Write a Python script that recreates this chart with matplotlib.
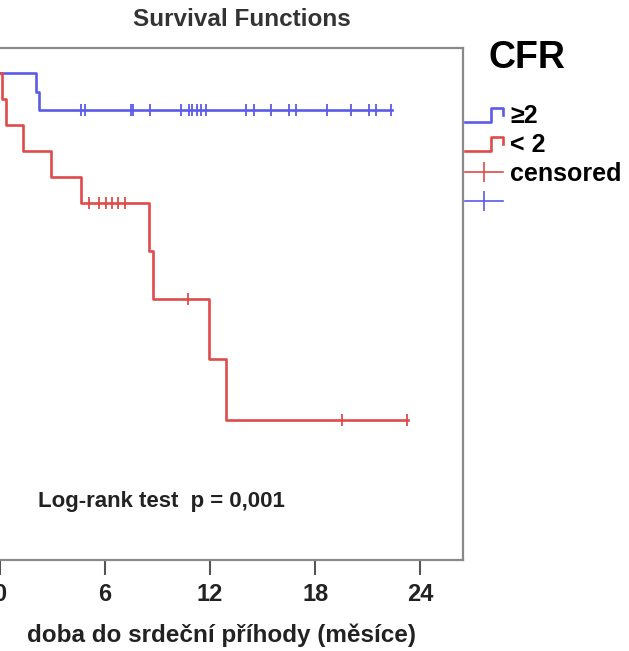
import matplotlib
matplotlib.use('Agg')
import matplotlib.pyplot as plt
from matplotlib.lines import Line2D
from matplotlib.legend_handler import HandlerBase

plt.rcParams['font.family'] = ['Liberation Sans', 'DejaVu Sans']

# (měsíce, podíl přežívajících)
blue_t = [0, 2.08, 2.2, 22.4]
blue_s = [1.0, 0.96, 0.92, 0.92]
blue_cens_t = [4.63, 4.86, 7.49, 7.6, 8.57, 10.34, 10.8, 10.97, 11.26, 11.49, 11.77,
               14.06, 14.51, 15.49, 16.51, 16.91, 18.69, 20.06, 21.09, 21.49, 22.34]
blue_cens_s = [0.92] * len(blue_cens_t)

red_t = [0, 0.14, 0.37, 1.29, 2.89, 4.6, 8.49, 8.71, 11.91, 12.89, 23.3]
red_s = [1.0, 0.944, 0.889, 0.833, 0.778, 0.722, 0.619, 0.516, 0.387, 0.258, 0.258]
red_cens_t = [5.1, 5.66, 6.06, 6.4, 6.74, 7.14, 10.71, 19.51, 23.23]
red_cens_s = [0.722] * 6 + [0.516] + [0.258] * 2

xticks = [0, 6, 12, 18, 24]
labels = ['\u22652', '< 2', 'censored', '']

blue = '#5b5be8'
red = '#e04a4a'


class StepHandler(HandlerBase):
    def create_artists(self, legend, orig, xd, yd, w, h, fontsize, trans):
        xs = [-xd, -xd + 0.68 * w, -xd + 0.68 * w, -xd + w, -xd + w]
        ys = [-yd + 0.05 * h, -yd + 0.05 * h, -yd + 0.85 * h, -yd + 0.85 * h, -yd + 0.45 * h]
        ln = Line2D(xs, ys, color=orig.get_color(), lw=orig.get_linewidth(), transform=trans)
        return [ln]


fig = plt.figure(figsize=(6.29, 6.51), dpi=100)
ax = fig.add_axes([-0.0131, 0.140, 0.749, 0.786])

ax.step(blue_t, blue_s, where='post', color=blue, lw=1.9)
ax.step(red_t, red_s, where='post', color=red, lw=1.9)
ax.plot(blue_cens_t, blue_cens_s, ls='none', marker='|', ms=9, mew=1.3, color=blue)
ax.plot(red_cens_t, red_cens_s, ls='none', marker='|', ms=9, mew=1.3, color=red)

ax.set_xlim(-0.47, 26.43)
ax.set_ylim(-0.042, 1.053)
ax.set_xticks(xticks)
ax.set_xticklabels([str(v) for v in xticks], fontsize=17, fontweight='bold', color='#222222')
ax.set_yticks([])
ax.tick_params(axis='x', length=11, width=1.5, color='#555555', pad=6)
for s in ['top', 'right', 'bottom']:
    ax.spines[s].set_color('#8a8a8a')
    ax.spines[s].set_linewidth(1.6)
ax.spines['left'].set_visible(False)

ax.set_xlabel('doba do srdeční příhody (měsíce)', fontsize=17.5, fontweight='bold',
              color='#222222')
ax.xaxis.set_label_coords(0.488, -0.125)
ax.text(38 / 629, 1 - 502 / 651, 'Log-rank test  p = 0,001', transform=fig.transFigure,
        fontsize=16, fontweight='bold', color='#222222', va='center')

fig.text(242 / 629, 1 - 19 / 651, 'Survival Functions', fontsize=17.5, fontweight='bold',
         color='#333333', ha='center', va='center')
fig.text(527 / 629, 1 - 58 / 651, 'CFR', fontsize=27, fontweight='bold',
         color='black', ha='center', va='center')

h_blue = Line2D([], [], color=blue, lw=1.9)
h_red = Line2D([], [], color=red, lw=1.9)
h_rc = Line2D([], [], color=red, lw=1.2, marker='|', ms=14, mew=1.2)
h_bc = Line2D([], [], color=blue, lw=1.2, marker='|', ms=14, mew=1.2)
fig.legend([h_blue, h_red, h_rc, h_bc], labels, loc='upper left',
           bbox_to_anchor=(465 / 629, 1 - 104 / 651), frameon=False,
           handler_map={h_blue: StepHandler(), h_red: StepHandler()},
           prop={'size': 18, 'weight': 'bold'}, handlelength=1.5, handletextpad=0.3,
           labelspacing=0.2, borderpad=0, borderaxespad=0, numpoints=1)

fig.savefig('out.png', dpi=100)
